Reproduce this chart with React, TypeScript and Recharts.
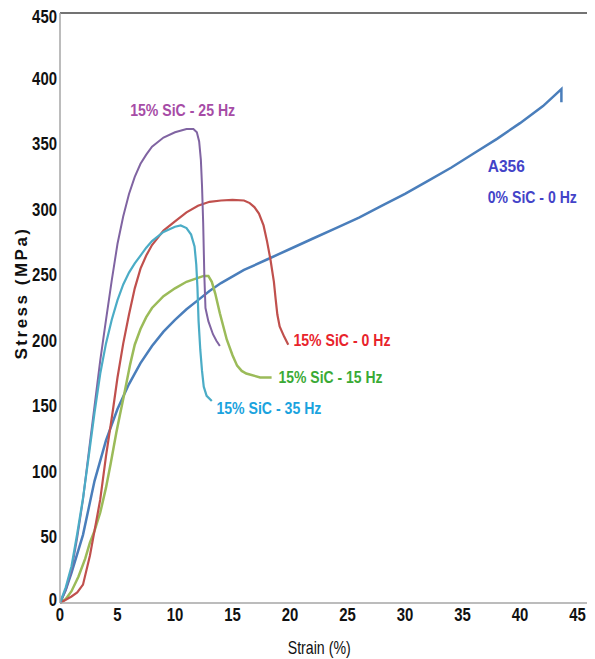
import React from 'react';
import { LineChart, Line, XAxis, YAxis, ReferenceLine, ReferenceDot } from 'recharts';

const xTicks = [0, 5, 10, 15, 20, 25, 30, 35, 40, 45];
const yTicks = [0, 50, 100, 150, 200, 250, 300, 350, 400, 450];

const a356Strain = [0, 0.5, 1, 2, 3, 4, 5, 6, 7, 8, 9, 10, 11, 12, 13, 14, 16, 18, 20, 22, 24, 26, 28, 30, 32, 34, 36, 38, 40, 42, 43.6, 43.6];
const a356Stress = [0, 10, 23, 52, 93, 124, 148, 167, 183, 196, 207, 216, 224, 231, 238, 244, 254, 262, 270, 278, 286, 294, 303, 312, 322, 332, 343, 354, 366, 379, 392, 382];

const redStrain = [0, 1, 1.5, 2, 2.6, 3, 3.5, 4, 4.6, 5, 5.5, 6, 6.5, 7, 7.5, 8, 9, 10, 11, 12, 13, 14, 15, 16, 16.5, 16.9, 17.3, 17.7, 18.0, 18.3, 18.6, 18.75, 18.9, 19.1, 19.5, 19.85];
const redStress = [0, 5, 8, 14, 36, 55, 79, 112, 147, 172, 198, 220, 240, 255, 265, 273, 284, 291, 298, 303, 306, 307, 307.5, 307, 305, 302, 297, 288, 276, 262, 245, 232, 220, 211, 203, 197];

const purpleStrain = [0, 0.5, 1, 1.5, 2, 2.6, 3, 3.5, 4, 4.5, 5, 5.5, 6, 6.5, 7, 7.5, 8, 9, 10, 11, 11.6, 11.9, 12.1, 12.25, 12.35, 12.45, 12.55, 12.65, 12.9, 13.3, 13.6, 13.9];
const purpleStress = [0, 10, 25, 50, 79, 122, 150, 185, 216, 246, 274, 295, 312, 325, 335, 342, 348, 355, 359, 361.5, 361.5, 359, 352, 338, 318, 290, 250, 225, 215, 205, 200, 196];

const cyanStrain = [0, 0.5, 1, 1.5, 2, 2.5, 3, 3.5, 4, 4.5, 5, 5.5, 6, 6.5, 7, 7.5, 8, 9, 10, 10.5, 11, 11.4, 11.7, 11.85, 11.95, 12.05, 12.2, 12.35, 12.5, 12.75, 13.2];
const cyanStress = [0, 12, 28, 53, 80, 112, 145, 175, 198, 216, 231, 243, 252, 259, 265, 271, 276, 283, 287, 288, 286, 281, 272, 258, 241, 215, 193, 177, 165, 158, 154];

const greenStrain = [0, 0.5, 1, 1.6, 2.2, 2.6, 3, 3.5, 4, 4.4, 4.9, 5.2, 5.6, 6.1, 6.5, 7, 7.5, 8, 9, 10, 11, 12, 12.5, 12.9, 13.2, 13.5, 13.9, 14.5, 15, 15.4, 15.8, 16.2, 17.4, 18.4];
const greenStress = [0, 3, 9, 20, 34, 46, 55, 69, 88, 106, 130, 143, 160, 182, 197, 209, 218, 225, 234, 240, 245, 248, 249.5, 249.5, 245, 236, 221, 201, 189, 181, 177, 175, 172, 172];

const toPoints = (xs: number[], ys: number[]) => xs.map((x, i) => ({ x, y: ys[i] }));

const a356Data = toPoints(a356Strain, a356Stress);
const redData = toPoints(redStrain, redStress);
const purpleData = toPoints(purpleStrain, purpleStress);
const cyanData = toPoints(cyanStrain, cyanStress);
const greenData = toPoints(greenStrain, greenStress);

const annotations = [
  { x: 6.1, y: 376, text: '15% SiC - 25 Hz', color: '#A64CA6', w: 105, fs: 17 },
  { x: 37.2, y: 333, text: 'A356', color: '#4343C8', w: 37, fs: 16 },
  { x: 37.2, y: 309, text: '0% SiC - 0 Hz', color: '#4343C8', w: 89, fs: 16 },
  { x: 20.3, y: 200, text: '15% SiC - 0 Hz', color: '#E8232B', w: 97, fs: 17 },
  { x: 19.0, y: 172, text: '15% SiC - 15 Hz', color: '#3AAA35', w: 104, fs: 17 },
  { x: 13.6, y: 148, text: '15% SiC - 35 Hz', color: '#1AA3DE', w: 105, fs: 17 },
];

const FONT = "'Liberation Sans', Arial, sans-serif";
const DIGIT_W = 8.3;

const XTick = (props: any) => {
  const { x, y, payload } = props;
  const s = String(payload.value);
  return (
    <text x={x} y={y + 18} textAnchor="middle" fill="#111" fontSize={18} fontWeight="bold" fontFamily={FONT}
      textLength={s.length * DIGIT_W} lengthAdjust="spacingAndGlyphs">
      {s}
    </text>
  );
};

const YTick = (props: any) => {
  const { x, y, payload } = props;
  const s = String(payload.value);
  const dy = payload.value === 0 ? -3 : 0;
  return (
    <text x={x} y={y + dy} textAnchor="end" dominantBaseline="central" fill="#111" fontSize={18} fontWeight="bold" fontFamily={FONT}
      textLength={s.length * DIGIT_W} lengthAdjust="spacingAndGlyphs">
      {s}
    </text>
  );
};

export default function App() {
  return (
    <div style={{ width: 587, height: 651 }}>
      <LineChart width={587} height={651} margin={{ top: 5, right: 6, left: 0, bottom: 0 }}>
        <XAxis
          type="number"
          dataKey="x"
          domain={[0, 46]}
          ticks={xTicks}
          allowDataOverflow
          height={56}
          tickLine={false}
          tickSize={0}
          tickMargin={0}
          axisLine={{ stroke: '#A6A6A6', strokeWidth: 1.5 }}
          tick={<XTick />}
          label={{
            content: (props: any) => {
              const vb = props.viewBox;
              return (
                <text x={vb.x + vb.width * 0.49} y={vb.y + 51} textAnchor="middle" fill="#111" fontSize={19}
                  fontFamily={FONT} textLength={63} lengthAdjust="spacingAndGlyphs">
                  Strain (%)
                </text>
              );
            },
          }}
        />
        <YAxis
          type="number"
          dataKey="y"
          domain={[0, 450]}
          ticks={yTicks}
          width={52}
          tickLine={false}
          tickSize={0}
          tickMargin={3}
          axisLine={{ stroke: '#A6A6A6', strokeWidth: 1.5 }}
          tick={<YTick />}
          label={{
            content: () => (
              <text
                x={13}
                y={285}
                transform="rotate(-90 13 285)"
                textAnchor="middle"
                dominantBaseline="central"
                fill="#111"
                fontSize={17}
                fontWeight="bold"
                letterSpacing={2.5}
                fontFamily={FONT}
              >
                Stress (MPa)
              </text>
            ),
          }}
        />
        <ReferenceLine y={450} stroke="#444" strokeWidth={1.5} />
        <ReferenceLine x={46} stroke="#444" strokeWidth={1.5} />
        <Line data={a356Data} dataKey="y" type="linear" stroke="#4A7EBB" strokeWidth={2.5} dot={false} isAnimationActive={false} />
        <Line data={greenData} dataKey="y" type="linear" stroke="#9BBB59" strokeWidth={2.5} dot={false} isAnimationActive={false} />
        <Line data={redData} dataKey="y" type="linear" stroke="#C0504D" strokeWidth={2.2} dot={false} isAnimationActive={false} />
        <Line data={purpleData} dataKey="y" type="linear" stroke="#8064A2" strokeWidth={2} dot={false} isAnimationActive={false} />
        <Line data={cyanData} dataKey="y" type="linear" stroke="#4BACC6" strokeWidth={2.2} dot={false} isAnimationActive={false} />
        {annotations.map((a) => (
          <ReferenceDot
            key={a.text}
            x={a.x}
            y={a.y}
            r={0}
            fill="none"
            stroke="none"
            label={{
              content: (props: any) => {
                const vb = props.viewBox || {};
                return (
                  <text x={vb.x} y={vb.y} dominantBaseline="central" fill={a.color} fontSize={a.fs} fontWeight="bold"
                    fontFamily={FONT} textLength={a.w} lengthAdjust="spacingAndGlyphs">
                    {a.text}
                  </text>
                );
              },
            }}
          />
        ))}
      </LineChart>
    </div>
  );
}
